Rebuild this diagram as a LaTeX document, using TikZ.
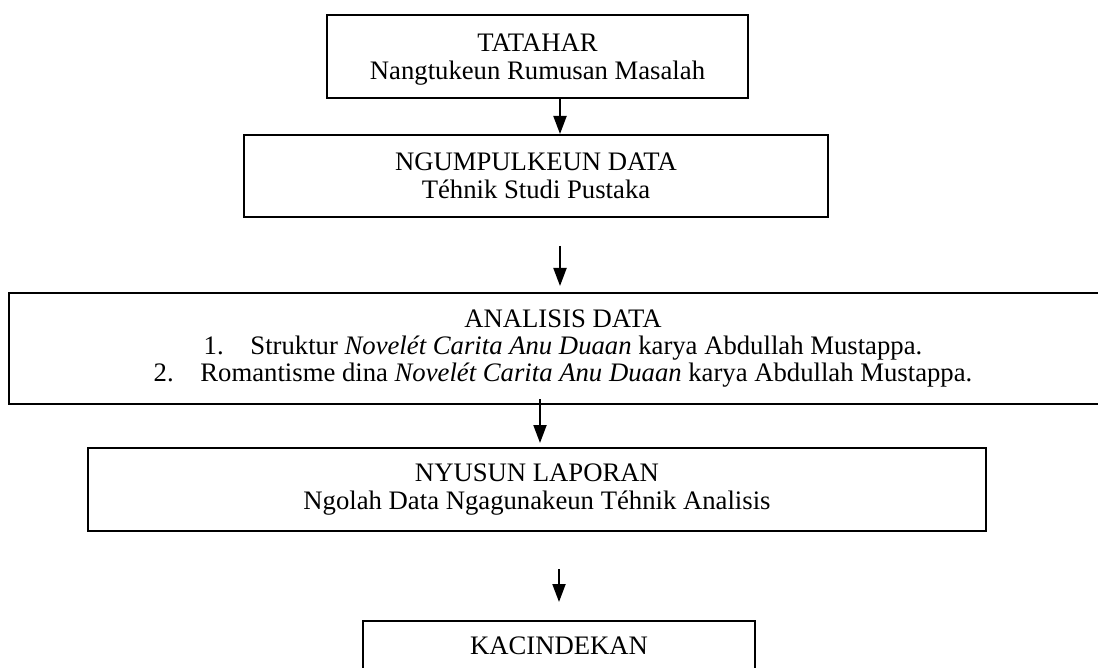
\documentclass[tikz,border=0pt]{standalone}
\usepackage{fontspec}
\setmainfont{Liberation Serif}
\usetikzlibrary{arrows.meta,positioning}
\tikzset{
  basic/.style  = {draw, rectangle, line width=1pt, align=center, inner sep=0pt,
                   font=\fontsize{13.35}{14}\selectfont},
  stage/.style  = {basic, minimum height=41.5pt},
  wide/.style   = {basic, minimum height=55.5pt, font=\fontsize{13.35}{13.3}\selectfont},
  last/.style   = {basic, anchor=north, inner ysep=8pt, text depth=10pt},
  link/.style   = {->, line width=1pt}
}
\begin{document}
\begin{tikzpicture}[x=0.5pt, y=-0.5pt, >={Triangle[length=9pt,width=6.5pt]}]
\useasboundingbox (0,0) rectangle (1098,668);

% the stages, top to bottom
\node[stage, minimum width=210.5pt] (b1) at (537.5,56.5) {\rule{0pt}{12.3pt}TATAHAR\\Nangtukeun Rumusan Masalah};
\node[stage, minimum width=292pt, minimum height=41pt] (b2) at (536,176) {NGUMPULKEUN DATA\\Téhnik Studi Pustaka};
\node[wide, minimum width=554pt] (b3) at (563,348.5) {ANALISIS DATA\\
  1.\hspace{1em}Struktur \textit{Novelét Carita Anu Duaan} karya Abdullah Mustappa.\\
  2.\hspace{1em}Romantisme dina \textit{Novelét Carita Anu Duaan} karya Abdullah Mustappa.};
\node[stage, minimum width=449pt] (b4) at (537,489.5) {NYUSUN LAPORAN\\Ngolah Data Ngagunakeun Téhnik Analisis};
\node[last, minimum width=196pt] (b5) at (559,620) {KACINDEKAN};

% arrows between the stages
\coordinate (x1) at (560,0);
\coordinate (a2s) at (560,246);
\coordinate (a2e) at (560,286);
\coordinate (a3s) at (540,399);
\coordinate (a4s) at (559,569);
\coordinate (a4e) at (559,602);
\draw[link] (b1.south -| x1) -- (b2.north -| x1);
\draw[link] (a2s) -- (a2e);
\draw[link, shorten >=2pt] (a3s) -- (b4.north -| a3s);
\draw[link] (a4s) -- (a4e);
\end{tikzpicture}
\end{document}
